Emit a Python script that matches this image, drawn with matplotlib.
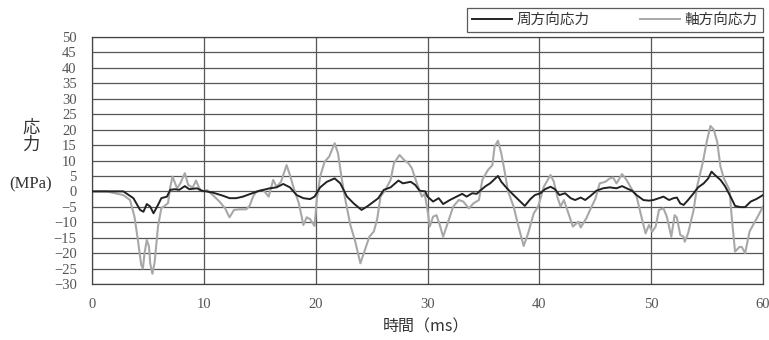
import matplotlib
matplotlib.use("Agg")
import matplotlib.pyplot as plt
import numpy as np

# ---- data ----
t_hoop = [0, 1.3, 2.8, 3.7, 4.3, 4.6, 4.9, 5.2, 5.5, 5.9,
          6.2, 6.7, 7.0, 7.4, 7.8, 8.3, 8.7, 9.4, 9.8, 10.2,
          10.8, 11.7, 12.3, 12.9, 13.5, 14.1, 14.9, 15.9, 16.5, 17.1,
          17.7, 18.3, 18.9, 19.5, 19.9, 20.4, 21.0, 21.7, 22.2, 22.8,
          23.4, 24.1, 24.6, 25.2, 25.6, 26.1, 26.7, 27.4, 27.8, 28.5,
          28.9, 29.3, 29.8, 30.0, 30.5, 31.0, 31.4, 32.0, 32.6, 33.1,
          33.5, 34.0, 34.4, 34.7, 35.2, 35.6, 36.3, 36.6, 37.1, 37.7,
          38.3, 38.7, 39.2, 39.6, 40.1, 40.5, 41.0, 41.4, 41.8, 42.3,
          42.8, 43.2, 43.7, 44.1, 44.6, 45.1, 45.7, 46.3, 46.9, 47.4,
          47.8, 48.3, 48.7, 49.3, 49.8, 50.2, 50.7, 51.1, 51.6, 52.0,
          52.3, 52.6, 52.9, 53.3, 53.8, 54.2, 54.7, 55.1, 55.4, 55.7,
          56.2, 56.6, 57.1, 57.5, 58.0, 58.4, 58.9, 59.4, 60.0]
s_hoop = [0, 0, 0, -2.2, -6, -6.6, -4.1, -4.9, -7.1, -4.4,
          -2.2, -1.7, 0.5, 0.7, 0.5, 1.7, 0.7, 1, 0.2, 0,
          -0.4, -1.4, -2.2, -2.2, -1.7, -0.9, 0.1, 1, 1.3, 2.4,
          1.3, -1.2, -2.2, -2.5, -1.7, 1.3, 3.1, 4.2, 2.6, -1.7,
          -3.9, -6, -4.9, -3.3, -2.2, 0.5, 1.3, 3.5, 2.6, 3.1,
          2.1, 0.2, 0, -1.7, -3.3, -2.2, -4.1, -2.8, -1.7, -0.8,
          -1.7, -0.6, -0.8, 0.2, 1.7, 2.6, 5, 3.1, 1, -1.2,
          -3.3, -4.7, -2.5, -1.2, -0.6, 0.7, 1.5, 0.7, -1.2, -0.6,
          -2.2, -2.8, -2, -2.8, -1.4, 0.2, 1, 1.3, 1, 1.7,
          1, 0.2, -1.2, -2.8, -3.0, -2.8, -2.2, -1.7, -2.8, -2.2,
          -2, -3.9, -4.4, -2.8, -0.6, 1.3, 2.6, 4.2, 6.4, 5.3,
          3.7, 1.7, -1.7, -4.7, -5.1, -5.1, -3.3, -2.5, -1.2]

t_axial = [0, 1.3, 2.8, 3.4, 3.8, 4.1, 4.4, 4.55, 4.7, 4.9,
           5.1, 5.2, 5.4, 5.6, 5.9, 6.2, 6.5, 6.8, 7.0, 7.2,
           7.6, 7.9, 8.3, 8.6, 9.0, 9.3, 9.6, 9.9, 10.3, 10.8,
           11.4, 11.9, 12.3, 12.7, 13.2, 13.8, 14.1, 14.4, 14.7, 15.3,
           15.8, 16.2, 16.5, 16.9, 17.4, 17.7, 18.0, 18.5, 18.9, 19.2,
           19.5, 19.9, 20.1, 20.4, 20.8, 21.2, 21.7, 22.0, 22.3, 22.6,
           23.1, 23.5, 24.0, 24.4, 24.8, 25.2, 25.5, 25.8, 26.2, 26.7,
           27.0, 27.5, 27.9, 28.3, 28.6, 29.1, 29.5, 29.75, 30.0, 30.2,
           30.5, 30.8, 31.1, 31.4, 31.9, 32.3, 32.8, 33.2, 33.7, 34.1,
           34.6, 34.9, 35.4, 35.8, 36.0, 36.3, 36.6, 36.9, 37.2, 37.7,
           38.1, 38.6, 39.0, 39.5, 39.9, 40.4, 41.0, 41.3, 41.6, 41.9,
           42.2, 42.6, 43.0, 43.5, 43.7, 44.2, 44.6, 45.0, 45.4, 45.9,
           46.3, 46.6, 46.9, 47.4, 47.8, 48.3, 48.7, 49.2, 49.5, 49.8,
           50.1, 50.4, 50.7, 51.1, 51.4, 51.6, 51.8, 52.1, 52.3, 52.6,
           52.9, 53.0, 53.3, 53.8, 54.1, 54.6, 55.0, 55.3, 55.6, 55.9,
           56.2, 56.5, 57.0, 57.2, 57.5, 57.9, 58.1, 58.4, 58.8, 59.2,
           59.6, 60.0]
s_axial = [0, 0, -1.2, -2.8, -8.2, -15.7, -23.8, -25, -20, -15.7,
           -17.9, -23.2, -26.7, -23, -11.4, -5.4, -4.7, -3.8, 1.5, 4.8,
           1, 2.6, 5.9, 2.1, 1.2, 3.5, 1, 0, 0.4, -1.2,
           -3.3, -5.5, -8.4, -6, -5.8, -5.8, -4.6, -1.7, 0, 0.5,
           -1.7, 3.7, 1.5, 3.1, 8.5, 5.3, 1.5, -3.9, -10.9, -8.4,
           -9, -11.2, -2.8, 4.8, 9.6, 11.2, 15.6, 12.3, 4.8, -1.7,
           -10.9, -15.7, -23.3, -19, -14.7, -13, -9, -1.7, 0.3, 3.7,
           9.1, 11.8, 10.2, 9.1, 7.5, 2.1, -1.7, -0.8, -6, -11.4,
           -8.2, -7.7, -10.9, -14.7, -9.3, -4.9, -2.8, -3.3, -5.5, -3.9,
           -2.8, 3.7, 6.9, 8.5, 14.5, 16.4, 12.3, 6.4, 0, -4.9,
           -10.9, -17.7, -13.6, -7.1, -4.9, 1.5, 5.3, 3.1, -1.7, -4.9,
           -2.8, -7.1, -11.4, -9.8, -11.7, -8.7, -5.5, -2.5, 2.6, 3.1,
           4.2, 4.5, 2.6, 5.6, 3.7, 0.5, -1.7, -9.3, -13.6, -10.9,
           -13, -11.4, -6, -5.5, -8.2, -11.4, -14.7, -7.7, -8.5, -14.1,
           -14.7, -16.3, -13.6, -6, 1.5, 9.1, 16.6, 21.2, 20, 16.1,
           8, 4.2, 0.5, -8.2, -19.5, -18, -18, -20, -13, -10.3,
           -7.7, -4.9]

y_ticks = list(range(-30, 55, 5))
x_ticks = [0, 10, 20, 30, 40, 50, 60]
label_hoop = "周方向応力"
label_axial = "軸方向応力"

jp = ["Noto Sans CJK JP", "DejaVu Sans"]

fig = plt.figure(figsize=(7.69, 3.40), dpi=100)
ax = fig.add_axes([92 / 769, 1 - 284 / 340, (763 - 92) / 769, (284 - 37) / 340])

ax.plot(t_hoop, s_hoop, color="#222222", lw=1.4, label=label_hoop, zorder=3)
ax.plot(t_axial, s_axial, color="#a8a8a8", lw=1.5, label=label_axial, zorder=2)

ax.set_xlim(0, 60)
ax.set_ylim(-30, 50)
ax.set_yticks(y_ticks)
ax.set_xticks(x_ticks)
ax.grid(True, color="#555555", lw=0.9)
ax.set_axisbelow(True)
ax.tick_params(length=0, labelsize=10.5, labelcolor="#555555")
ax.tick_params(axis="x", pad=10)
ax.tick_params(axis="y", pad=11)
for lab in ax.get_xticklabels() + ax.get_yticklabels():
    lab.set_fontfamily("Liberation Serif")
for sp in ax.spines.values():
    sp.set_color("#444444")
    sp.set_linewidth(0.9)

fig.text(31 / 769, 1 - 136 / 340, "応\n力", family=jp, fontsize=12.5, color="#333333",
         ha="center", va="center", linespacing=0.95)
fig.text(31 / 769, 1 - 184 / 340, "(MPa)", family="Liberation Serif", fontsize=12, color="#333333",
         ha="center", va="center")
fig.text(426 / 769, 1 - 327 / 340, "時間（ms）", family=jp, fontsize=11.5, color="#333333",
         ha="center", va="center")

leg = fig.legend(loc="upper right", bbox_to_anchor=(763 / 769, 1 - 8 / 340), ncol=2,
                 frameon=True, fancybox=False, handlelength=2.8, columnspacing=3.4,
                 borderpad=0.35, handletextpad=0.3, prop={"family": jp, "size": 10.5},
                 borderaxespad=0)
leg.get_frame().set_edgecolor("#333333")
leg.get_frame().set_linewidth(0.9)
for txt in leg.get_texts():
    txt.set_color("#333333")
for h in leg.get_lines():
    h.set_linewidth(1.4)

fig.savefig("out.png", dpi=100)
